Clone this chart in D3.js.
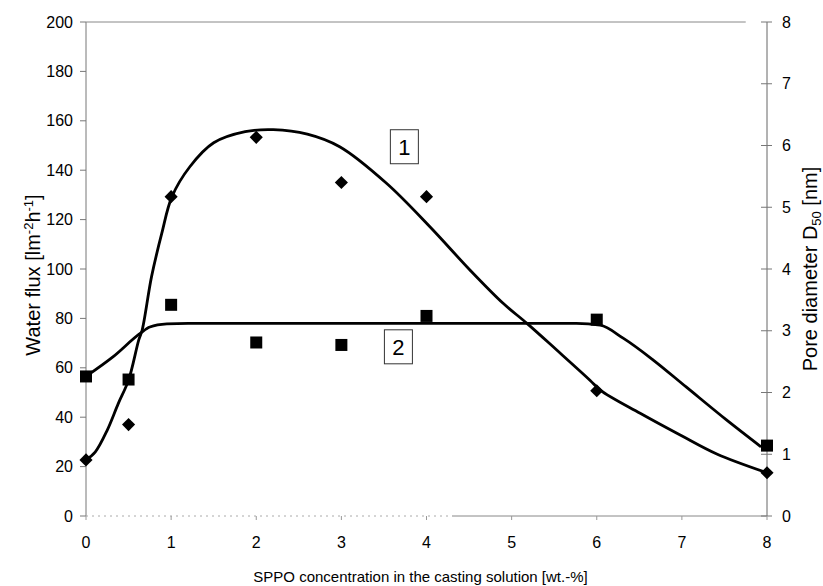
<!DOCTYPE html>
<html>
<head>
<meta charset="utf-8">
<script src="https://cdn.jsdelivr.net/npm/d3@7"></script>
<style>
  body { margin: 0; background: #fff; }
  svg { display: block; font-family: "Liberation Sans", Arial, sans-serif; }
</style>
</head>
<body>
<svg id="svg"></svg>
<script>
// measured points (x = SPPO wt.-%)
var conc = [0, 0.5, 1, 2, 3, 4, 6, 8];
var waterFlux = [22.7, 37, 129.3, 153.3, 135, 129.3, 50.7, 17.5];   // left axis, diamonds
var poreDiam = [2.26, 2.21, 3.42, 2.81, 2.77, 3.24, 3.18, 1.14];      // right axis, squares (nm)

// fitted curves
var fit1x = [0, 0.11, 0.25, 0.38, 0.5, 0.62, 0.66, 0.77, 0.89, 1.01, 1.22, 1.5, 1.87, 2.2, 2.6, 2.98, 3.53, 4.04, 4.51, 4.9, 5.18, 5.53, 5.92, 6.04, 6.51, 6.98, 7.41, 8];
var fit1y = [22.7, 26, 34.8, 45.6, 55, 71.3, 75.3, 96.9, 114.4, 129.3, 141.4, 151.1, 155.6, 156.4, 154.6, 149.5, 134.7, 117.1, 99.6, 86.1, 78, 67.2, 55, 51, 41.6, 32.8, 25.1, 17.5];
var fit2x = [0, 0.32, 0.64, 0.75, 0.95, 1.2, 5.76, 6.04, 6.31, 6.66, 7.05, 7.52, 7.93];
var fit2y = [2.26, 2.58, 2.96, 3.06, 3.11, 3.12, 3.12, 3.09, 2.88, 2.53, 2.09, 1.56, 1.12];

var xTicks = [0, 1, 2, 3, 4, 5, 6, 7, 8];
var yLeftTicks = [0, 20, 40, 60, 80, 100, 120, 140, 160, 180, 200];
var yRightTicks = [0, 1, 2, 3, 4, 5, 6, 7, 8];

var W = 823, H = 586;
var x0 = 86, x1 = 767, yTop = 22, yBot = 516;

var svg = d3.select("#svg").attr("width", W).attr("height", H);

var x = d3.scaleLinear().domain([0, 8]).range([x0, x1]);
var yL = d3.scaleLinear().domain([0, 200]).range([yBot, yTop]);
var yR = d3.scaleLinear().domain([0, 8]).range([yBot, yTop]);

var axisG = svg.append("g").attr("class", "axes");

// frame lines (scan-faded look)
axisG.append("line")
  .attr("x1", x0).attr("x2", x0).attr("y1", yTop).attr("y2", yBot)
  .attr("stroke", "#777").attr("stroke-width", 1);
axisG.append("line")
  .attr("x1", x0).attr("x2", x(7.75)).attr("y1", yTop).attr("y2", yTop)
  .attr("stroke", "#888").attr("stroke-width", 1);
axisG.append("line")
  .attr("x1", x1).attr("x2", x1).attr("y1", yTop).attr("y2", yBot)
  .attr("stroke", "#666").attr("stroke-width", 1);
axisG.append("line")
  .attr("x1", x0).attr("x2", x(4.3)).attr("y1", yBot).attr("y2", yBot)
  .attr("stroke", "#aaa").attr("stroke-width", 1).attr("stroke-dasharray", "2,4");
axisG.append("line")
  .attr("x1", x(4.3)).attr("x2", x1).attr("y1", yBot).attr("y2", yBot)
  .attr("stroke", "#888").attr("stroke-width", 1);

// left ticks
var lt = axisG.selectAll(".lt").data(yLeftTicks).enter().append("g").attr("class", "lt")
  .attr("transform", d => `translate(${x0},${yL(d)})`);
lt.append("line").attr("x1", -6).attr("x2", 0).attr("stroke", "#777");
lt.append("text").attr("x", -13).attr("dy", "0.35em")
  .attr("text-anchor", "end").style("font-size", "16px").text(d => d);

// right ticks
var rt = axisG.selectAll(".rt").data(yRightTicks).enter().append("g").attr("class", "rt")
  .attr("transform", d => `translate(${x1},${yR(d)})`);
rt.append("line").attr("x1", -6).attr("x2", 5).attr("stroke", "#777");
rt.append("text").attr("x", 15).attr("dy", "0.35em")
  .attr("text-anchor", "start").style("font-size", "16px").text(d => d);

// bottom ticks
var bt = axisG.selectAll(".bt").data(xTicks).enter().append("g").attr("class", "bt")
  .attr("transform", d => `translate(${x(d)},${yBot})`);
bt.append("line").attr("y1", 0).attr("y2", 4).attr("stroke", "#999");
bt.append("text").attr("y", 32)
  .attr("text-anchor", "middle").style("font-size", "16px").text(d => d);

// axis titles
svg.append("text")
  .attr("x", (x0 + x1) / 2 - 6).attr("y", 582)
  .attr("text-anchor", "middle").style("font-size", "15px")
  .text("SPPO concentration in the casting solution  [wt.-%]");

var lTitle = svg.append("text")
  .attr("transform", `translate(40,${(yTop + yBot) / 2 + 6}) rotate(-90)`)
  .attr("text-anchor", "middle").style("font-size", "20px");
lTitle.append("tspan").text("Water flux  [lm");
lTitle.append("tspan").attr("dy", -7).style("font-size", "13px").text("-2");
lTitle.append("tspan").attr("dy", 7).text("h");
lTitle.append("tspan").attr("dy", -7).style("font-size", "13px").text("-1");
lTitle.append("tspan").attr("dy", 7).text("]");

var rTitle = svg.append("text")
  .attr("transform", `translate(817,${(yTop + yBot) / 2}) rotate(-90)`)
  .attr("text-anchor", "middle").style("font-size", "20px");
rTitle.append("tspan").text("Pore diameter D");
rTitle.append("tspan").attr("dy", 4).style("font-size", "13px").text("50");
rTitle.append("tspan").attr("dy", -4).text(" [nm]");

// fitted curves
var line1 = d3.line().x(d => x(d[0])).y(d => yL(d[1])).curve(d3.curveCatmullRom.alpha(0.5));
var line2 = d3.line().x(d => x(d[0])).y(d => yR(d[1])).curve(d3.curveMonotoneX);

svg.append("path")
  .attr("d", line1(d3.zip(fit1x, fit1y)))
  .attr("fill", "none").attr("stroke", "#000").attr("stroke-width", 2.8)
  .attr("stroke-linejoin", "round");
svg.append("path")
  .attr("d", line2(d3.zip(fit2x, fit2y)))
  .attr("fill", "none").attr("stroke", "#000").attr("stroke-width", 2.8)
  .attr("stroke-linejoin", "round");

// markers
svg.selectAll(".dia").data(d3.zip(conc, waterFlux)).enter().append("path")
  .attr("class", "dia")
  .attr("d", d3.symbol().type(d3.symbolDiamond2).size(110))
  .attr("transform", d => `translate(${x(d[0])},${yL(d[1])})`)
  .attr("fill", "#000");

svg.selectAll(".sq").data(d3.zip(conc, poreDiam)).enter().append("rect")
  .attr("class", "sq")
  .attr("x", d => x(d[0]) - 6).attr("y", d => yR(d[1]) - 6)
  .attr("width", 12).attr("height", 12)
  .attr("fill", "#000");

// curve labels
var labels = [{t: "1", cx: 3.74, cy: 149.5}, {t: "2", cx: 3.67, cy: 2.74}];
var lb1 = svg.append("g").attr("transform", `translate(${x(labels[0].cx)},${yL(labels[0].cy)})`);
var lb2 = svg.append("g").attr("transform", `translate(${x(labels[1].cx)},${yR(labels[1].cy)})`);
[lb1, lb2].forEach(function(g, i) {
  g.append("rect").attr("x", -14).attr("y", -17).attr("width", 28).attr("height", 34)
    .attr("fill", "#fff").attr("stroke", "#333").attr("stroke-width", 1);
  g.append("text").attr("text-anchor", "middle").attr("dy", "0.36em")
    .style("font-size", "22px").text(labels[i].t);
});
</script>
</body>
</html>
